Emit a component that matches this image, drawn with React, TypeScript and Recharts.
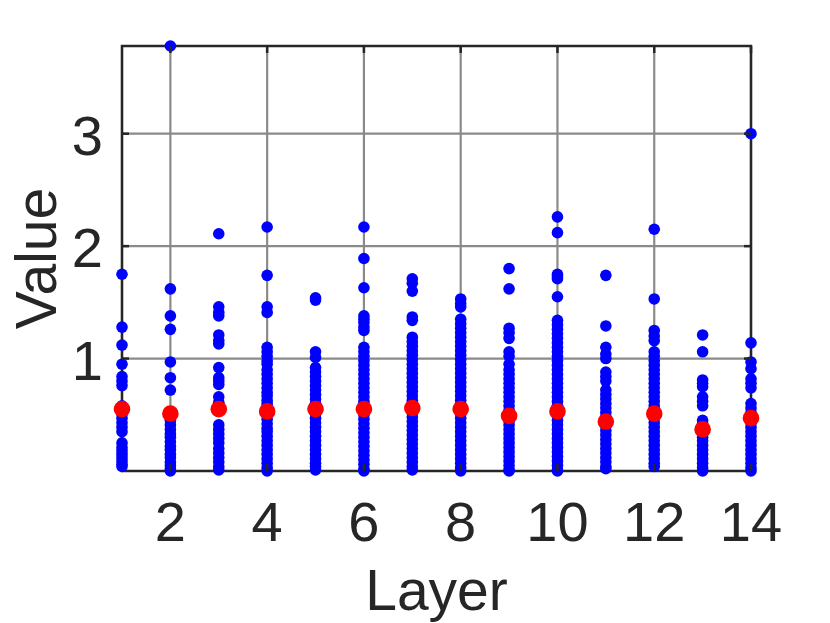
import { ScatterChart, Scatter, XAxis, YAxis, CartesianGrid, ReferenceArea, Label } from 'recharts';

// layer numbers and the per-layer values
const layers = [1, 2, 3, 4, 5, 6, 7, 8, 9, 10, 11, 12, 13, 14];
const xTicks = [2, 4, 6, 8, 10, 12, 14];
const yTicks = [1, 2, 3];

const L1 = [1.75, 1.28, 1.12, 0.95, 0.84, 0.8, 0.76, 0.58, 0.51, 0.47, 0.43, 0.39, 0.35, 0.25, 0.21, 0.18, 0.15, 0.12, 0.09, 0.06, 0.04];
const L2 = [3.78, 1.62, 1.38, 1.26, 0.97, 0.83, 0.72, 0.48, 0.45, 0.41, 0.37, 0.33, 0.3, 0.26, 0.22, 0.19, 0.15, 0.12, 0.08, 0.05, 0.02, 0.0];
const L3 = [2.11, 1.46, 1.41, 1.38, 1.21, 1.16, 1.13, 0.92, 0.83, 0.8, 0.77, 0.66, 0.61, 0.41, 0.37, 0.33, 0.29, 0.25, 0.2, 0.16, 0.12, 0.08, 0.04, 0.01];
const L4 = [2.17, 1.74, 1.46, 1.41, 1.1, 1.06, 1.02, 0.98, 0.95, 0.9, 0.86, 0.82, 0.78, 0.74, 0.7, 0.67, 0.63, 0.6, 0.57, 0.5, 0.46, 0.42, 0.38, 0.35, 0.31, 0.27, 0.23, 0.19, 0.15, 0.11, 0.07, 0.03, 0.0];
const L5 = [1.54, 1.52, 1.06, 1.01, 0.92, 0.88, 0.84, 0.8, 0.76, 0.72, 0.68, 0.64, 0.6, 0.51, 0.47, 0.43, 0.39, 0.35, 0.31, 0.27, 0.23, 0.19, 0.15, 0.11, 0.07, 0.04, 0.01];
const L6 = [2.17, 1.89, 1.63, 1.38, 1.35, 1.32, 1.28, 1.25, 1.1, 1.06, 1.02, 0.98, 0.94, 0.9, 0.86, 0.82, 0.78, 0.74, 0.7, 0.66, 0.62, 0.59, 0.5, 0.46, 0.42, 0.38, 0.34, 0.3, 0.26, 0.22, 0.18, 0.14, 0.1, 0.06, 0.02, 0.0];
const L7 = [1.71, 1.67, 1.6, 1.37, 1.34, 1.19, 1.15, 1.11, 1.07, 1.03, 0.99, 0.95, 0.91, 0.87, 0.83, 0.79, 0.75, 0.71, 0.67, 0.63, 0.6, 0.52, 0.48, 0.44, 0.4, 0.36, 0.32, 0.28, 0.24, 0.2, 0.16, 0.12, 0.08, 0.04, 0.01];
const L8 = [1.53, 1.49, 1.46, 1.35, 1.31, 1.27, 1.23, 1.19, 1.15, 1.11, 1.07, 1.03, 0.99, 0.95, 0.91, 0.87, 0.83, 0.79, 0.75, 0.71, 0.67, 0.63, 0.59, 0.51, 0.47, 0.43, 0.39, 0.35, 0.31, 0.27, 0.23, 0.19, 0.15, 0.11, 0.07, 0.03, 0.0];
const L9 = [1.8, 1.62, 1.27, 1.23, 1.18, 1.06, 1.02, 0.95, 0.9, 0.86, 0.82, 0.78, 0.74, 0.7, 0.66, 0.62, 0.58, 0.54, 0.45, 0.41, 0.37, 0.33, 0.29, 0.25, 0.21, 0.17, 0.13, 0.09, 0.05, 0.01, 0.0];
const L10 = [2.26, 2.12, 1.75, 1.73, 1.71, 1.55, 1.34, 1.3, 1.26, 1.22, 1.18, 1.14, 1.1, 1.06, 1.02, 0.98, 0.94, 0.9, 0.86, 0.82, 0.78, 0.74, 0.7, 0.66, 0.62, 0.58, 0.49, 0.45, 0.41, 0.37, 0.33, 0.29, 0.25, 0.21, 0.17, 0.13, 0.09, 0.05, 0.01, 0.0];
const L11 = [1.74, 1.29, 1.1, 1.04, 1.0, 0.88, 0.84, 0.8, 0.72, 0.68, 0.64, 0.6, 0.56, 0.52, 0.48, 0.4, 0.36, 0.32, 0.28, 0.24, 0.2, 0.16, 0.12, 0.08, 0.04, 0.02];
const L12 = [2.15, 1.53, 1.25, 1.2, 1.16, 1.06, 1.02, 0.98, 0.94, 0.9, 0.86, 0.82, 0.78, 0.74, 0.7, 0.66, 0.62, 0.58, 0.55, 0.47, 0.43, 0.39, 0.35, 0.31, 0.27, 0.23, 0.19, 0.15, 0.11, 0.07, 0.04];
const L13 = [1.21, 1.06, 0.81, 0.78, 0.75, 0.66, 0.62, 0.58, 0.45, 0.42, 0.33, 0.3, 0.27, 0.23, 0.19, 0.15, 0.11, 0.07, 0.03, 0.0];
const L14 = [3.0, 1.14, 0.97, 0.91, 0.82, 0.78, 0.74, 0.6, 0.56, 0.52, 0.43, 0.39, 0.35, 0.31, 0.27, 0.23, 0.19, 0.15, 0.11, 0.07, 0.03, 0.0];

const layerValues = [L1, L2, L3, L4, L5, L6, L7, L8, L9, L10, L11, L12, L13, L14];
const medians = [0.55, 0.51, 0.55, 0.53, 0.55, 0.55, 0.56, 0.55, 0.49, 0.53, 0.44, 0.51, 0.37, 0.47];

const blueData = layers.flatMap((layer, i) => layerValues[i].map((value) => ({ layer, value })));
const redData = layers.map((layer, i) => ({ layer, value: medians[i] }));

const W = 822;
const H = 615;
const M = { top: 38, right: 79, bottom: 52, left: 34 };
const YW = 80;
const XH = 100;
const PLOT_LEFT = M.left + YW;
const PLOT_RIGHT = W - M.right;
const PLOT_TOP = M.top;
const PLOT_BOTTOM = H - M.bottom - XH;

const FONT = '"Liberation Sans", Arial, sans-serif';
const INK = '#262626';

function XTick(props: any) {
  const { x, payload } = props;
  return (
    <g>
      <line x1={x} x2={x} y1={PLOT_BOTTOM} y2={PLOT_BOTTOM - 7} stroke={INK} strokeWidth={2.5} />
      <line x1={x} x2={x} y1={PLOT_TOP} y2={PLOT_TOP + 7} stroke={INK} strokeWidth={2.5} />
      <text x={x} y={PLOT_BOTTOM + 70} textAnchor="middle" fontSize={56} fontFamily={FONT} fill={INK}>
        {payload.value}
      </text>
    </g>
  );
}

function YTick(props: any) {
  const { y, payload } = props;
  return (
    <g>
      <line x1={PLOT_LEFT} x2={PLOT_LEFT + 7} y1={y} y2={y} stroke={INK} strokeWidth={2.5} />
      <line x1={PLOT_RIGHT} x2={PLOT_RIGHT - 7} y1={y} y2={y} stroke={INK} strokeWidth={2.5} />
      <text x={PLOT_LEFT - 19} y={y + 21} textAnchor="end" fontSize={56} fontFamily={FONT} fill={INK}>
        {payload.value}
      </text>
    </g>
  );
}

const blueDot = (p: any) => <circle cx={p.cx} cy={p.cy} r={5.8} fill="#0000ff" />;
const redDot = (p: any) => <circle cx={p.cx} cy={p.cy} r={8.3} fill="#ff0000" />;

export default function App() {
  return (
    <ScatterChart width={W} height={H} margin={M}>
      <CartesianGrid stroke="#8a8a8a" strokeWidth={2.2} />
      <XAxis
        type="number"
        dataKey="layer"
        domain={[1, 14]}
        ticks={xTicks}
        height={XH}
        axisLine={false}
        tickLine={false}
        tick={<XTick />}
        interval={0}
      >
        <Label
          content={() => (
            <text x={(PLOT_LEFT + PLOT_RIGHT) / 2} y={602} textAnchor="middle" fontSize={57} fontFamily={FONT} fill={INK}>
              Layer
            </text>
          )}
        />
      </XAxis>
      <YAxis
        type="number"
        dataKey="value"
        domain={[0, 3.78]}
        ticks={yTicks}
        width={YW}
        axisLine={false}
        tickLine={false}
        tick={<YTick />}
        interval={0}
      >
        <Label
          content={() => (
            <text
              transform={`translate(48, ${(PLOT_TOP + PLOT_BOTTOM) / 2}) rotate(-90)`}
              textAnchor="middle"
              fontSize={57}
              fontFamily={FONT}
              fill={INK}
            >
              Value
            </text>
          )}
        />
      </YAxis>
      <ReferenceArea x1={1} x2={14} y1={0} y2={3.78} fill="none" stroke={INK} strokeWidth={2.5} ifOverflow="visible" />
      <Scatter data={blueData} shape={blueDot} isAnimationActive={false} />
      <Scatter data={redData} shape={redDot} isAnimationActive={false} />
    </ScatterChart>
  );
}
